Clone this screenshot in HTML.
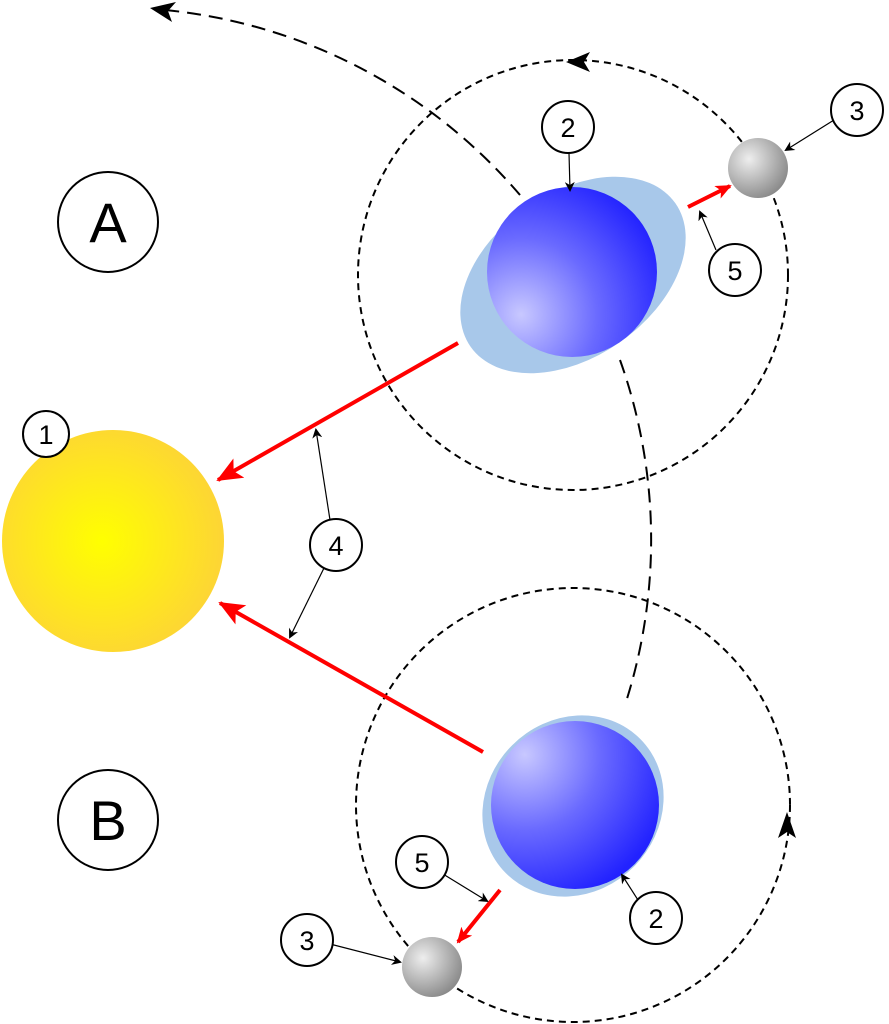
<!DOCTYPE html>
<html><head><meta charset="utf-8"><style>html,body{margin:0;padding:0;background:#fff}svg{display:block}</style></head>
<body>
<svg width="889" height="1024" viewBox="0 0 889 1024" xmlns="http://www.w3.org/2000/svg" font-family="Liberation Sans, sans-serif">
<defs>
<radialGradient id="sun" cx="0.45" cy="0.5" r="0.55"><stop offset="0" stop-color="#ffff00"/><stop offset="1" stop-color="#fdd535"/></radialGradient>
<radialGradient id="pl" cx="0.2" cy="0.75" r="0.9"><stop offset="0" stop-color="#c8c8ff"/><stop offset="0.5" stop-color="#6a6aff"/><stop offset="1" stop-color="#2222ff"/></radialGradient>
<radialGradient id="plb" cx="0.2" cy="0.2" r="0.9"><stop offset="0" stop-color="#c8c8ff"/><stop offset="0.5" stop-color="#6a6aff"/><stop offset="1" stop-color="#2222ff"/></radialGradient>
<radialGradient id="moon" cx="0.35" cy="0.35" r="0.7"><stop offset="0" stop-color="#eeeeee"/><stop offset="1" stop-color="#8a8a8a"/></radialGradient>
<marker id="ah" markerWidth="10" markerHeight="10" refX="8" refY="5" orient="auto" markerUnits="userSpaceOnUse"><path d="M0,0 L10,5 L0,10 L3,5z" fill="#000"/></marker>
<marker id="rh" markerWidth="26" markerHeight="22" refX="24" refY="11" orient="auto" markerUnits="userSpaceOnUse"><path d="M0,0 L26,11 L0,22 L6,11z" fill="#f00"/></marker>
<marker id="rs" markerWidth="16" markerHeight="14" refX="14" refY="7" orient="auto" markerUnits="userSpaceOnUse"><path d="M0,0 L16,7 L0,14 L4,7z" fill="#f00"/></marker>
</defs>
<path d="M520,195 A535,535 0 0 0 165,10" fill="none" stroke="#000" stroke-width="2" stroke-dasharray="14,8"/>
<path d="M150,8 L176,2 L168,11 L172,22z" fill="#000"/>
<path d="M620,360 A535,535 0 0 1 625,705" fill="none" stroke="#000" stroke-width="2" stroke-dasharray="14,8"/>
<circle cx="573" cy="275" r="215" fill="none" stroke="#000" stroke-width="2" stroke-dasharray="7,5"/>
<circle cx="573" cy="805" r="217" fill="none" stroke="#000" stroke-width="2" stroke-dasharray="7,5"/>
<path d="M566,62 L590,52 L584,62 L590,72z" fill="#000"/>
<path d="M787,812 L778,838 L787,832 L796,838z" fill="#000"/>
<circle cx="113" cy="541" r="111" fill="url(#sun)"/>
<ellipse cx="573" cy="275" rx="125" ry="82" transform="rotate(-35 573 275)" fill="#a8c8ea"/>
<circle cx="572" cy="272" r="85" fill="url(#pl)"/>
<ellipse cx="573" cy="806" rx="95" ry="86" transform="rotate(-45 573 806)" fill="#a8c8ea"/>
<circle cx="575" cy="805" r="84" fill="url(#plb)"/>
<circle cx="758" cy="168" r="30" fill="url(#moon)"/>
<circle cx="432" cy="967" r="30" fill="url(#moon)"/>
<line x1="458" y1="343" x2="218" y2="480" stroke="#f00" stroke-width="4" marker-end="url(#rh)"/>
<line x1="483" y1="752" x2="220" y2="603" stroke="#f00" stroke-width="4" marker-end="url(#rh)"/>
<line x1="688" y1="207" x2="730" y2="186" stroke="#f00" stroke-width="4" marker-end="url(#rs)"/>
<line x1="500" y1="890" x2="458" y2="942" stroke="#f00" stroke-width="4" marker-end="url(#rs)"/>
<g stroke="#000" stroke-width="1.2" fill="none" marker-end="url(#ah)">
<line x1="569" y1="153" x2="570" y2="190"/>
<line x1="834" y1="120" x2="786" y2="150"/>
<line x1="716" y1="250" x2="700" y2="212"/>
<line x1="330" y1="520" x2="316" y2="430"/>
<line x1="325" y1="566" x2="290" y2="637"/>
<line x1="443" y1="874" x2="487" y2="901"/>
<line x1="330" y1="944" x2="400" y2="962"/>
<line x1="638" y1="900" x2="622" y2="875"/>
</g>
<g fill="#fff" stroke="#000" stroke-width="2">
<circle cx="108" cy="222" r="50"/>
<circle cx="108" cy="820" r="50"/>
<circle cx="46" cy="434" r="23"/>
<circle cx="568" cy="127" r="26"/>
<circle cx="857" cy="110" r="26"/>
<circle cx="735" cy="270" r="26"/>
<circle cx="336" cy="545" r="26"/>
<circle cx="422" cy="862" r="26"/>
<circle cx="307" cy="940" r="26"/>
<circle cx="656" cy="918" r="26"/>
</g>
<g fill="#000" text-anchor="middle">
<text x="108" y="242" font-size="56">A</text>
<text x="108" y="840" font-size="56">B</text>
<text x="46" y="444" font-size="27">1</text>
<text x="568" y="137" font-size="27">2</text>
<text x="857" y="120" font-size="27">3</text>
<text x="735" y="280" font-size="27">5</text>
<text x="336" y="555" font-size="27">4</text>
<text x="422" y="872" font-size="27">5</text>
<text x="307" y="950" font-size="27">3</text>
<text x="656" y="928" font-size="27">2</text>
</g>
</svg>
</body></html>
